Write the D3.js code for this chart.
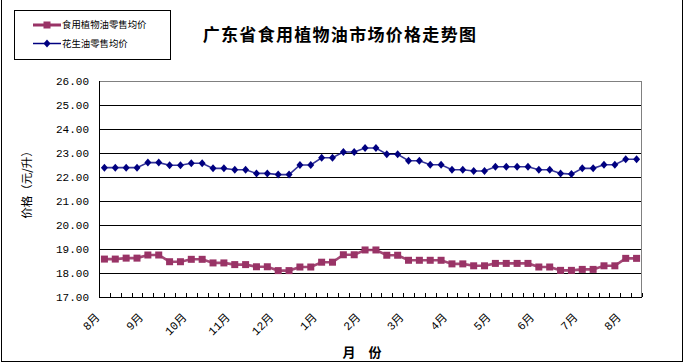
<!DOCTYPE html>
<html>
<head>
<meta charset="utf-8">
<script src="https://cdn.jsdelivr.net/npm/d3@7"></script>
<style>
  html, body { margin: 0; padding: 0; background: #fff; }
  svg { display: block; }
</style>
</head>
<body>
<svg id="chart" width="685" height="364"></svg>
<script>
// ---------- data ----------
const categories = [
  "8月第1周","8月第2周","8月第3周","8月第4周",
  "9月第1周","9月第2周","9月第3周","9月第4周",
  "10月第1周","10月第2周","10月第3周","10月第4周",
  "11月第1周","11月第2周","11月第3周","11月第4周",
  "12月第1周","12月第2周","12月第3周","12月第4周",
  "1月第1周","1月第2周","1月第3周","1月第4周",
  "2月第1周","2月第2周","2月第3周","2月第4周",
  "3月第1周","3月第2周","3月第3周","3月第4周",
  "4月第1周","4月第2周","4月第3周","4月第4周",
  "5月第1周","5月第2周","5月第3周","5月第4周",
  "6月第1周","6月第2周","6月第3周","6月第4周",
  "7月第1周","7月第2周","7月第3周","7月第4周",
  "次年8月第1周","次年8月第2周"
];
const monthLabels = ["8月","9月","10月","11月","12月","1月","2月","3月","4月","5月","6月","7月","8月"];
const monthTickCategories = [
  "8月第1周","9月第1周","10月第1周","11月第1周","12月第1周","1月第1周","2月第1周",
  "3月第1周","4月第1周","5月第1周","6月第1周","7月第1周","次年8月第1周"
];
const edibleOil = [
  18.58,18.58,18.62,18.62,18.75,18.75,18.47,18.47,18.57,18.57,
  18.42,18.42,18.35,18.35,18.26,18.26,18.10,18.10,18.25,18.25,
  18.45,18.45,18.76,18.76,18.96,18.96,18.74,18.74,18.53,18.53,
  18.53,18.53,18.38,18.38,18.30,18.30,18.40,18.40,18.40,18.40,
  18.25,18.25,18.11,18.11,18.15,18.15,18.30,18.30,18.61,18.61
];
const peanutOil = [
  22.39,22.39,22.39,22.39,22.60,22.60,22.49,22.49,22.57,22.57,
  22.36,22.36,22.30,22.30,22.15,22.15,22.10,22.10,22.50,22.50,
  22.80,22.80,23.04,23.04,23.21,23.21,22.95,22.95,22.68,22.68,
  22.51,22.51,22.30,22.30,22.25,22.25,22.43,22.43,22.43,22.43,
  22.30,22.30,22.15,22.12,22.36,22.36,22.51,22.51,22.74,22.74
];
const yTicks = [17,18,19,20,21,22,23,24,25,26];
const seriesNames = ["食用植物油零售均价","花生油零售均价"];
const titleText = "广东省食用植物油市场价格走势图";
const yTitle = "价格（元/升）";
const xTitle = "月　份";

// ---------- layout ----------
const W = 685, H = 364;
const plot = { left: 99, right: 642, top: 81, bottom: 297 };
const cjk = "'Noto Sans CJK SC', sans-serif";
const numFont = "'Liberation Mono', 'Noto Sans CJK SC', monospace";
const pink = "#993366", navy = "#000080";

const svg = d3.select("#chart");
svg.append("rect").attr("width", W).attr("height", H).attr("fill", "#fff");

// outer chart border
svg.append("rect")
  .attr("x", 1.5).attr("y", -2).attr("width", 681).attr("height", 363.5)
  .attr("fill", "none").attr("stroke", "#000").attr("stroke-width", 1);

const x = d3.scaleBand().domain(categories).range([plot.left, plot.right]).padding(0);
const y = d3.scaleLinear().domain([17, 26]).range([plot.bottom, plot.top]);
const bw = x.bandwidth();
const cx = d => x(d) + bw / 2;

// plot area border (gray)
svg.append("rect")
  .attr("x", plot.left + 0.5).attr("y", y(26) + 0.5)
  .attr("width", plot.right - plot.left - 1).attr("height", y(17) - y(26))
  .attr("fill", "none").attr("stroke", "#808080");

// gridlines
svg.append("g").selectAll("line")
  .data(yTicks.filter(v => v > 17 && v < 26))
  .join("line")
  .attr("x1", plot.left).attr("x2", plot.right - 1)
  .attr("y1", d => Math.round(y(d)) + 0.5).attr("y2", d => Math.round(y(d)) + 0.5)
  .attr("stroke", "#000").attr("stroke-width", 1);

// y axis
const yAxis = svg.append("g")
  .attr("transform", `translate(${plot.left},0)`)
  .call(d3.axisLeft(y).tickValues(yTicks).tickSize(0).tickPadding(10).tickFormat(d3.format(".2f")));
yAxis.select(".domain").remove();
yAxis.selectAll("text").attr("font-family", numFont).attr("font-size", 11).attr("fill", "#000");
svg.append("line")
  .attr("x1", plot.left + 0.5).attr("x2", plot.left + 0.5)
  .attr("y1", y(26)).attr("y2", y(17) + 0.5)
  .attr("stroke", "#000");

// x axis
const xAxis = svg.append("g")
  .attr("transform", `translate(0,${plot.bottom})`)
  .call(d3.axisBottom(x).tickValues(monthTickCategories).tickSize(0)
        .tickFormat((d, i) => monthLabels[i]));
xAxis.select(".domain").remove();
xAxis.selectAll("text")
  .attr("font-family", numFont).attr("font-size", 11.5).attr("fill", "#000")
  .attr("text-anchor", "end")
  .attr("dy", 0)
  .attr("x", -4).attr("y", 21)
  .attr("transform", "rotate(-45,-4,21)");
svg.append("line")
  .attr("x1", plot.left).attr("x2", plot.right)
  .attr("y1", plot.bottom + 0.5).attr("y2", plot.bottom + 0.5)
  .attr("stroke", "#000");
// category boundary ticks (inside)
const boundaries = categories.map(c => x(c)).concat([x(categories[categories.length - 1]) + bw]);
svg.append("g").selectAll("line")
  .data(boundaries)
  .join("line")
  .attr("x1", d => Math.round(d) + 0.5).attr("x2", d => Math.round(d) + 0.5)
  .attr("y1", plot.bottom - 4).attr("y2", plot.bottom)
  .attr("stroke", "#000");

// series
const line = d3.line().x((d, i) => cx(categories[i])).y(d => y(d));

svg.append("path").datum(peanutOil)
  .attr("d", line).attr("fill", "none")
  .attr("stroke", navy).attr("stroke-width", 1.6).attr("stroke-opacity", 0.8);
const diamond = "M0,-4L3.5,0L0,4L-3.5,0Z";
svg.append("g").selectAll("path")
  .data(peanutOil).join("path")
  .attr("d", diamond)
  .attr("transform", (d, i) => `translate(${cx(categories[i])},${y(d)})`)
  .attr("fill", navy);

svg.append("path").datum(edibleOil)
  .attr("d", line).attr("fill", "none")
  .attr("stroke", pink).attr("stroke-width", 2.6).attr("stroke-opacity", 0.9);
svg.append("g").selectAll("rect")
  .data(edibleOil).join("rect")
  .attr("x", (d, i) => cx(categories[i]) - 3.5)
  .attr("y", d => y(d) - 3.5)
  .attr("width", 7).attr("height", 7)
  .attr("fill", pink);

// title
svg.append("text")
  .attr("x", 340).attr("y", 41).attr("text-anchor", "middle")
  .attr("font-family", cjk).attr("font-size", 17).attr("font-weight", "bold")
  .attr("letter-spacing", 1.3).attr("fill", "#000")
  .text(titleText);

// y title
svg.append("text")
  .attr("transform", "translate(31,182) rotate(-90)")
  .attr("text-anchor", "middle")
  .attr("font-family", cjk).attr("font-size", 11.5).attr("fill", "#000")
  .text(yTitle);

// x title
svg.append("text")
  .attr("x", 362).attr("y", 357).attr("text-anchor", "middle")
  .attr("font-family", cjk).attr("font-size", 13).attr("font-weight", "bold")
  .attr("fill", "#000")
  .text(xTitle);

// legend
const lg = svg.append("g");
lg.append("rect").attr("x", 14.5).attr("y", 10.5).attr("width", 156).attr("height", 49)
  .attr("fill", "#fff").attr("stroke", "#000");
const legendRows = [
  { name: seriesNames[0], color: pink, ly: 25, w: 3, marker: "square" },
  { name: seriesNames[1], color: navy, ly: 43.5, w: 1.5, marker: "diamond" }
];
legendRows.forEach(r => {
  lg.append("line").attr("x1", 33).attr("x2", 61).attr("y1", r.ly).attr("y2", r.ly)
    .attr("stroke", r.color).attr("stroke-width", r.w);
  if (r.marker === "square") {
    lg.append("rect").attr("x", 47 - 3.5).attr("y", r.ly - 3.5).attr("width", 7).attr("height", 7)
      .attr("fill", r.color);
  } else {
    lg.append("path").attr("d", diamond).attr("transform", `translate(47,${r.ly})`).attr("fill", r.color);
  }
  lg.append("text").attr("x", 62).attr("y", r.ly).attr("dy", "0.36em")
    .attr("font-family", cjk).attr("font-size", 9.4).attr("fill", "#000")
    .text(r.name);
});
</script>
</body>
</html>
